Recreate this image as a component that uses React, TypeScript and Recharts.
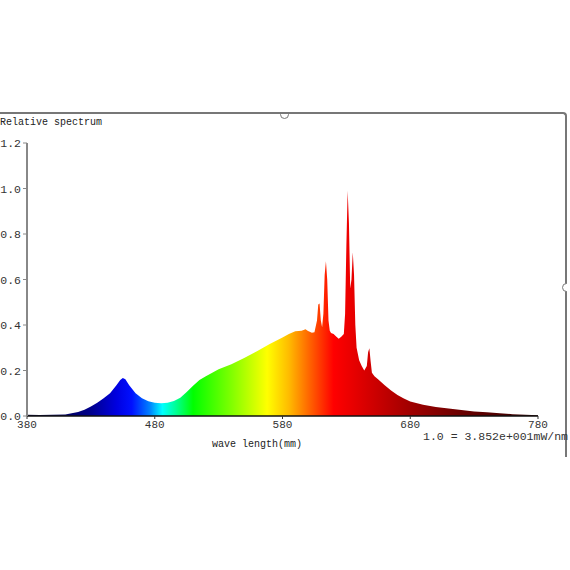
import React from "react";
import { AreaChart, Area, XAxis, YAxis } from "recharts";

const wavelengths = [380,390,400,410,415,420,425,430,435,440,445,450,453,455,457,460,465,470,475,480,485,490,495,500,505,510,515,520,525,530,540,550,560,570,580,585,590,595,598,600,603,605,607,608,609,610,611,612,613,614,615,616,617,618,620,622,624,626,628,629,630,631,632,633,634,635,636,637,638,640,642,644,646,647,648,649,650,652,655,660,665,670,675,680,690,700,710,720,730,740,750,760,770,780];
const relative = [0.005,0.004,0.005,0.007,0.012,0.018,0.028,0.042,0.058,0.078,0.1,0.135,0.158,0.167,0.162,0.135,0.1,0.078,0.065,0.058,0.056,0.058,0.066,0.08,0.105,0.133,0.158,0.175,0.19,0.205,0.228,0.255,0.285,0.316,0.345,0.36,0.372,0.375,0.381,0.374,0.366,0.368,0.42,0.49,0.495,0.42,0.39,0.45,0.62,0.68,0.6,0.42,0.375,0.365,0.36,0.35,0.34,0.348,0.36,0.45,0.75,0.99,0.85,0.56,0.6,0.72,0.62,0.4,0.3,0.245,0.22,0.2,0.22,0.28,0.298,0.24,0.19,0.175,0.16,0.135,0.112,0.092,0.077,0.064,0.05,0.04,0.033,0.026,0.02,0.016,0.012,0.008,0.005,0.003];
const xTicks = [380, 480, 580, 680, 780];
const yTicks = [0, 0.2, 0.4, 0.6, 0.8, 1.0, 1.2];
const spectrumStops: [number, string][] = [
  [380, "#000030"], [410, "#000060"], [430, "#00008c"], [450, "#0000e0"], [462, "#0010ff"],
  [476, "#0080ff"], [486, "#00ffff"], [497, "#00ff90"], [510, "#00ff00"], [540, "#80ff00"],
  [568, "#ffff00"], [585, "#ffbb00"], [600, "#ff6a00"], [620, "#ff0000"], [640, "#e00000"],
  [680, "#a00000"], [720, "#6a0000"], [780, "#300000"],
];

const data = wavelengths.map((w, i) => ({ wl: w, v: relative[i] }));
const font = "'Liberation Mono', 'DejaVu Sans Mono', monospace";

export default function App() {
  return (
    <div style={{ position: "absolute", left: 0, top: 0, width: 570, height: 570, background: "#fff", overflow: "hidden" }}>
      <div style={{ position: "absolute", left: -4, top: 112, width: 569, height: 343, borderTop: "2px solid #777", borderRight: "2px solid #777", borderTopRightRadius: 4 }} />
      <div style={{ position: "absolute", left: 280, top: 110, width: 7, height: 7, borderRadius: "50%", border: "1.5px solid #777", background: "#fff", clipPath: "inset(45% 0 0 0)" }} />
      <div style={{ position: "absolute", left: 562, top: 283, width: 7, height: 7, borderRadius: "50%", border: "1.5px solid #777", background: "#fff", clipPath: "inset(0 45% 0 0)" }} />
      <AreaChart width={570} height={570} data={data} margin={{ top: 143, right: 32, left: 0, bottom: 124 }} style={{ position: "absolute", left: 0, top: 0 }}>
        <defs>
          <linearGradient id="spec" x1="0" y1="0" x2="1" y2="0">
            {spectrumStops.map(([w, c]) => (
              <stop key={w} offset={(w - 380) / 400} stopColor={c} />
            ))}
          </linearGradient>
        </defs>
        <XAxis dataKey="wl" type="number" domain={[380, 780]} ticks={xTicks} height={30} tickSize={3}
          axisLine={{ stroke: "#111", strokeWidth: 1.5 }} tickLine={{ stroke: "#333" }}
          tick={{ fill: "#333", fontSize: 11, fontFamily: font, dy: -1 }} interval={0} />
        <YAxis type="number" domain={[0, 1.2]} ticks={yTicks} width={27} tickSize={4}
          axisLine={{ stroke: "#888", strokeWidth: 2 }} tickLine={{ stroke: "#888" }}
          tick={{ fill: "#333", fontSize: 11.5, fontFamily: font, textAnchor: "end" }}
          tickFormatter={(v: number) => v.toFixed(1)} interval={0} />
        <Area type="linear" dataKey="v" stroke="none" fill="url(#spec)" fillOpacity={1} isAnimationActive={false} />
      </AreaChart>
      <div style={{ position: "absolute", left: 0, top: 117, fontFamily: font, fontSize: 10, lineHeight: "12px", color: "#222", whiteSpace: "nowrap" }}>Relative spectrum</div>
      <div style={{ position: "absolute", left: 212, top: 439, fontFamily: font, fontSize: 10, lineHeight: "12px", color: "#222", whiteSpace: "nowrap" }}>wave length(mm)</div>
      <div style={{ position: "absolute", right: 2, top: 431, fontFamily: font, fontSize: 11.5, lineHeight: "12px", color: "#333", whiteSpace: "nowrap" }}>1.0 = 3.852e+001mW/nm</div>
    </div>
  );
}
